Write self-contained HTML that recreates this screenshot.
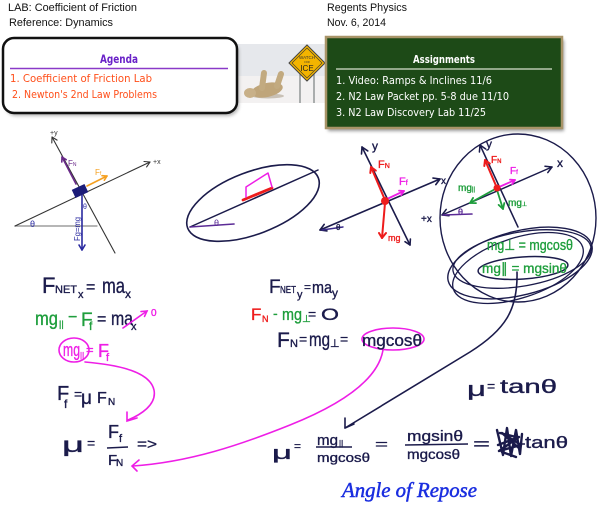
<!DOCTYPE html>
<html><head><meta charset="utf-8"><style>
html,body{margin:0;padding:0;background:#fff;width:600px;height:508px;overflow:hidden}
svg{display:block}
.h{font-family:"Liberation Sans",Arial,sans-serif;font-size:11px;fill:#111}
.c{font-family:"DejaVu Sans","Liberation Sans",sans-serif}
.w{font-family:"Liberation Sans","DejaVu Sans",sans-serif;stroke-width:0.35;stroke-linejoin:round}
.n{fill:#1b1b4b;stroke:#1b1b4b}
.g{fill:#1e9e3c;stroke:#1e9e3c}
.r{fill:#ee1c1c;stroke:#ee1c1c}
.m{fill:#ee1ee6;stroke:#ee1ee6}
</style></head><body>
<svg width="600" height="508" viewBox="0 0 600 508" xmlns="http://www.w3.org/2000/svg">
<defs>
<filter id="sh" x="-10%" y="-10%" width="130%" height="140%"><feGaussianBlur stdDeviation="1.5"/></filter>
</defs>
<rect width="600" height="508" fill="#fff"/>

<!-- header -->
<text class="h" x="8" y="11" textLength="129" lengthAdjust="spacingAndGlyphs">LAB: Coefficient of Friction</text>
<text class="h" x="9" y="26" textLength="104" lengthAdjust="spacingAndGlyphs">Reference: Dynamics</text>
<text class="h" x="327" y="11" textLength="80" lengthAdjust="spacingAndGlyphs">Regents Physics</text>
<text class="h" x="327" y="26" textLength="59" lengthAdjust="spacingAndGlyphs">Nov. 6, 2014</text>

<!-- image -->
<rect x="237" y="44" width="90" height="59" fill="#e6e8ec"/>
<rect x="237" y="76" width="90" height="27" fill="#f3f1f1"/>
<line x1="300" y1="74" x2="300" y2="103" stroke="#7a8080" stroke-width="1.2"/>
<line x1="314" y1="74" x2="314" y2="103" stroke="#7a8080" stroke-width="1.2"/>
<polygon points="307,45 325,63 307,81 289,63" fill="#f3b400" stroke="#444" stroke-width="1"/>
<polygon points="307,48 322,63 307,78 292,63" fill="none" stroke="#333" stroke-width="0.6"/>
<text x="307" y="59" font-size="4.5" text-anchor="middle" fill="#333" font-family="Liberation Sans">WATCH</text>
<text x="307" y="63" font-size="2.5" text-anchor="middle" fill="#333" font-family="Liberation Sans">FOR</text>
<text x="307" y="71" font-size="8" text-anchor="middle" fill="#222" font-family="Liberation Sans">ICE</text>
<ellipse cx="268" cy="96" rx="16" ry="2.5" fill="#8a7a60" opacity="0.4"/>
<ellipse cx="267" cy="90" rx="16" ry="7" fill="#bfa57a" transform="rotate(-12 267 90)"/>
<path d="M262,88 L264,73 M277,86 L281,74" stroke="#c2aa80" stroke-width="6" stroke-linecap="round"/>
<ellipse cx="250" cy="93" rx="6" ry="5" fill="#c8b088"/>

<!-- agenda -->
<rect x="5" y="41" width="234" height="75" rx="11" fill="#888" opacity="0.6" filter="url(#sh)"/>
<rect x="3" y="38" width="234" height="75" rx="11" fill="#fff" stroke="#111" stroke-width="2.5"/>
<text class="c" x="100" y="63" font-size="11.5" font-weight="bold" fill="#6a22c8" textLength="38" lengthAdjust="spacingAndGlyphs">Agenda</text>
<line x1="10" y1="68.5" x2="228" y2="68.5" stroke="#8a3ac8" stroke-width="1.5"/>
<text class="c" x="10" y="82" font-size="10.5" fill="#ff4f1a" textLength="142" lengthAdjust="spacingAndGlyphs">1. Coefficient of Friction Lab</text>
<text class="c" x="12" y="98" font-size="10.5" fill="#ff4f1a" textLength="145" lengthAdjust="spacingAndGlyphs">2. Newton's 2nd Law Problems</text>

<!-- assignments -->
<rect x="328" y="40" width="236" height="91" fill="#555" opacity="0.6" filter="url(#sh)"/>
<rect x="326" y="37" width="236" height="91" fill="#1d4a17" stroke="#a89468" stroke-width="2.5"/>
<text class="c" x="413" y="63" font-size="11" font-weight="bold" fill="#fff" textLength="62" lengthAdjust="spacingAndGlyphs">Assignments</text>
<line x1="336" y1="69" x2="552" y2="69" stroke="#d8e0d0" stroke-width="1.3"/>
<text class="c" x="336" y="84" font-size="10.5" fill="#fff" textLength="156" lengthAdjust="spacingAndGlyphs">1. Video: Ramps &amp; Inclines 11/6</text>
<text class="c" x="336" y="100" font-size="10.5" fill="#fff" textLength="173" lengthAdjust="spacingAndGlyphs">2. N2 Law Packet pp. 5-8 due 11/10</text>
<text class="c" x="336" y="116" font-size="10.5" fill="#fff" textLength="150" lengthAdjust="spacingAndGlyphs">3. N2 Law Discovery Lab 11/25</text>

<!-- diagram 1 -->
<g fill="none" stroke-linecap="round" stroke-linejoin="round">
<line x1="15" y1="226" x2="97" y2="226" stroke="#8a8a8a" stroke-width="1.2"/>
<line x1="15" y1="226" x2="150" y2="162" stroke="#333" stroke-width="1.1"/>
<polyline points="144,161.5 150,162 146.6,166.9" stroke="#333" stroke-width="1.1"/>
<line x1="52" y1="137" x2="115" y2="253" stroke="#333" stroke-width="1.1"/>
<polyline points="51.8,143 52,137 57.1,140.1" stroke="#333" stroke-width="1.1"/>
<line x1="76" y1="184" x2="62" y2="157" stroke="#6a2a8a" stroke-width="1.6"/>
<polyline points="61.8,162 62,157 66.2,159.7" stroke="#6a2a8a" stroke-width="1.6"/>
<line x1="87" y1="186" x2="107" y2="176" stroke="#f5a020" stroke-width="1.6"/>
<polyline points="102,175.7 107,176 104.3,180.2" stroke="#f5a020" stroke-width="1.6"/>
<line x1="82" y1="195" x2="82" y2="250" stroke="#2a2aa0" stroke-width="1.6"/>
<polyline points="79,245 82,250 85,245" stroke="#2a2aa0" stroke-width="1.6"/>
</g>
<rect x="73" y="186.5" width="14" height="9" fill="#1c1c78" transform="rotate(-25 80 191)"/>
<text x="153" y="164" font-size="7" font-family="Liberation Sans" fill="#333">+x</text>
<text x="50" y="135" font-size="7" font-family="Liberation Sans" fill="#333">+y</text>
<text x="68" y="166" font-size="8" font-family="Liberation Sans" fill="#6a2a8a">F<tspan font-size="5">N</tspan></text>
<text x="95" y="175" font-size="8" font-family="Liberation Sans" fill="#f5a020">F<tspan font-size="5">f</tspan></text>
<text x="80" y="241" font-size="8" font-family="Liberation Sans" fill="#2a2aa0" transform="rotate(-90 80 241)" textLength="24" lengthAdjust="spacingAndGlyphs">Fg=mg</text>
<text x="30" y="227" font-size="9" font-family="Liberation Sans" fill="#2a2aa0">θ</text>
<text x="83" y="209" font-size="7" font-family="Liberation Sans" fill="#2a2aa0">θ</text>

<!-- diagram 2 -->
<g fill="none" stroke-linecap="round" stroke-linejoin="round">
<ellipse cx="253" cy="203" rx="70" ry="31" transform="rotate(-21 253 203)" stroke="#1b1b4b" stroke-width="1.6"/>
<line x1="190" y1="227" x2="318" y2="170" stroke="#1b1b4b" stroke-width="1.5"/>
<line x1="190" y1="227" x2="234" y2="224" stroke="#5b2b96" stroke-width="1.6"/>
<line x1="243" y1="200" x2="272" y2="188" stroke="#ee1c1c" stroke-width="2.8"/>
<polyline points="246,197 246,187 268,173 272,187" stroke="#ee1ee6" stroke-width="1.5"/>
</g>
<text x="214" y="226" font-size="9" font-family="Liberation Sans" fill="#5b2b96">θ</text>

<!-- diagram 3 -->
<g fill="none" stroke-linecap="round" stroke-linejoin="round">
<line x1="362" y1="147" x2="410" y2="245" stroke="#1b1b4b" stroke-width="1.6"/>
<polyline points="361.5,154 362,147 367.8,150.9" stroke="#1b1b4b" stroke-width="1.6"/>
<polyline points="410.4,239 410,245 405,241.7" stroke="#1b1b4b" stroke-width="1.6"/>
<line x1="320" y1="230" x2="440" y2="179" stroke="#1b1b4b" stroke-width="1.6"/>
<polyline points="433,178.1 440,179 435.8,184.6" stroke="#1b1b4b" stroke-width="1.6"/>
<polyline points="327,230.9 320,230 324.2,224.4" stroke="#1b1b4b" stroke-width="1.6"/>
<line x1="322" y1="230" x2="343" y2="227" stroke="#3a2a8a" stroke-width="1.4"/>
<line x1="385" y1="200" x2="371" y2="167" stroke="#ee1c1c" stroke-width="2"/>
<polyline points="370.3,173 371,167 375.8,170.6" stroke="#ee1c1c" stroke-width="2"/>
<line x1="387" y1="199" x2="404" y2="191" stroke="#ee1ee6" stroke-width="1.8"/>
<polyline points="399,190.6 404,191 401.1,195.1" stroke="#ee1ee6" stroke-width="1.8"/>
<line x1="385" y1="203" x2="382" y2="238" stroke="#ee1c1c" stroke-width="2"/>
<polyline points="379,233 382,238 386,233" stroke="#ee1c1c" stroke-width="2"/>
</g>
<circle cx="385" cy="201" r="4" fill="#ee1c1c"/>
<text class="w n" x="372" y="150" font-size="12">y</text>
<text class="w n" x="441" y="184" font-size="10">x</text>
<text class="w n" x="336" y="230" font-size="8">θ</text>
<text class="w r" x="378" y="168" font-size="11">F<tspan font-size="7">N</tspan></text>
<text class="w m" x="399" y="185" font-size="11">F<tspan font-size="7">f</tspan></text>
<text class="w r" x="388" y="241" font-size="9">mg</text>

<!-- diagram 4 -->
<g fill="none" stroke-linecap="round" stroke-linejoin="round" stroke="#1b1b4b">
<ellipse cx="518" cy="218" rx="78" ry="84" stroke-width="1.4"/>
<ellipse cx="520" cy="263" rx="74" ry="32" transform="rotate(-14 520 263)" stroke-width="1.4"/>
<ellipse cx="522" cy="259" rx="70" ry="27" transform="rotate(-10 522 259)" stroke-width="1.3"/>
<ellipse cx="518" cy="268" rx="68" ry="30" transform="rotate(-18 518 268)" stroke-width="1.3"/>
<ellipse cx="523" cy="268" rx="45" ry="11" transform="rotate(-4 523 268)" stroke-width="1.5"/>
<line x1="480" y1="145" x2="518" y2="227" stroke-width="1.5"/>
<polyline points="479.4,152 480,145 485.7,149" stroke-width="1.5"/>
<line x1="442" y1="215" x2="552" y2="167" stroke-width="1.5"/>
<polyline points="545,166.2 552,167 547.8,172.6" stroke-width="1.5"/>
<polyline points="449,215.8 442,215 446.2,209.4" stroke-width="1.5"/>
<path d="M517,272 C518,310 505,330 470,352 L345,428" stroke-width="1.6"/>
<polyline points="345,418 345,428 354,424" stroke-width="1.6"/>
<line x1="443" y1="215" x2="472" y2="214" stroke="#5b2b96" stroke-width="1.6"/>
<line x1="497" y1="188" x2="485" y2="160" stroke="#ee1c1c" stroke-width="2"/>
<polyline points="484.3,166 485,160 489.8,163.6" stroke="#ee1c1c" stroke-width="2"/>
<line x1="499" y1="187" x2="515" y2="180" stroke="#ee1ee6" stroke-width="1.8"/>
<polyline points="510,179.6 515,180 512.1,184.1" stroke="#ee1ee6" stroke-width="1.8"/>
<line x1="497" y1="188" x2="470" y2="203" stroke="#1e9e3c" stroke-width="1.8"/>
<polyline points="476,203.1 470,203 473.1,197.9" stroke="#1e9e3c" stroke-width="1.8"/>
<line x1="497" y1="190" x2="503" y2="209" stroke="#1e9e3c" stroke-width="1.8"/>
<polyline points="504.3,203.1 503,209 498.6,204.9" stroke="#1e9e3c" stroke-width="1.8"/>
</g>
<circle cx="497" cy="188" r="3.5" fill="#ee1c1c"/>
<text class="w n" x="486" y="148" font-size="12">y</text>
<text class="w n" x="557" y="167" font-size="12">x</text>
<text class="w n" x="421" y="222" font-size="10">+x</text>
<text class="w" x="458" y="215" font-size="9" fill="#5b2b96" stroke="#5b2b96">θ</text>
<text class="w r" x="491" y="163" font-size="10">F<tspan font-size="6">N</tspan></text>
<text class="w m" x="510" y="174" font-size="10">F<tspan font-size="6">f</tspan></text>
<text class="w g" x="458" y="191" font-size="10">mg<tspan font-size="6">||</tspan></text>
<text class="w g" x="508" y="206" font-size="10">mg<tspan font-size="6">⊥</tspan></text>
<text class="w g" x="487" y="250" font-size="15" textLength="86" lengthAdjust="spacingAndGlyphs">mg⊥ = mgcosθ</text>
<text class="w g" x="482" y="273" font-size="14" textLength="85" lengthAdjust="spacingAndGlyphs">mg∥ = mgsinθ</text>

<!-- left equations -->
<text class="w n" x="42" y="293" font-size="22">F</text>
<text class="w n" x="55" y="293" font-size="11" textLength="22" lengthAdjust="spacingAndGlyphs">NET</text>
<text class="w n" x="78" y="298" font-size="11">x</text>
<text class="w n" x="86" y="292" font-size="16">=</text>
<text class="w n" x="102" y="293" font-size="21" textLength="23" lengthAdjust="spacingAndGlyphs">ma</text>
<text class="w n" x="125" y="298" font-size="12">x</text>

<text class="w g" x="35" y="325" font-size="19" textLength="23" lengthAdjust="spacingAndGlyphs">mg</text>
<text class="w g" x="59" y="327" font-size="9">||</text>
<text class="w g" x="68" y="322" font-size="16">−</text>
<text class="w g" x="81" y="326" font-size="19">F</text>
<text class="w g" x="89" y="330" font-size="12">f</text>
<text class="w n" x="97" y="324" font-size="16">=</text>
<text class="w n" x="111" y="325" font-size="19" textLength="22" lengthAdjust="spacingAndGlyphs">ma</text>
<text class="w n" x="131" y="330" font-size="11">x</text>
<g fill="none" stroke="#ee1ee6" stroke-width="1.6" stroke-linecap="round">
<line x1="123" y1="328" x2="147" y2="311"/>
<polyline points="141,311.6 147,311 144.5,316.4"/>
<ellipse cx="74" cy="350" rx="15" ry="12"/>
<path d="M85,362 C120,365 150,372 154,390 C157,405 140,415 128,420"/>
<polyline points="127,412 127,421 137,418"/>
<ellipse cx="393" cy="339" rx="31" ry="11"/>
<path d="M383,350 C378,380 340,405 290,425 C240,445 190,462 133,466"/>
<polyline points="139,460 132,466 137,471"/>
</g>
<text class="w m" x="151" y="316" font-size="10">0</text>
<text class="w m" x="63" y="356" font-size="18" textLength="17" lengthAdjust="spacingAndGlyphs">mg</text>
<text class="w m" x="80" y="358" font-size="8">||</text>
<text class="w m" x="86" y="354" font-size="13">=</text>
<text class="w m" x="98" y="357" font-size="18">F</text>
<text class="w m" x="106" y="361" font-size="11">f</text>

<text class="w n" x="57" y="400" font-size="20">F</text>
<text class="w n" x="64" y="408" font-size="12">f</text>
<text class="w n" x="74" y="399" font-size="14">=</text>
<text class="w n" x="81" y="404" font-size="19">μ</text>
<text class="w n" x="97" y="403" font-size="16">F</text>
<text class="w n" x="108" y="405" font-size="10">N</text>

<text class="w n" x="62" y="452" font-size="21" textLength="22" lengthAdjust="spacingAndGlyphs">μ</text>
<text class="w n" x="87" y="448" font-size="14">=</text>
<text class="w n" x="108" y="438" font-size="18">F</text>
<text class="w n" x="119" y="442" font-size="11">f</text>
<line x1="107" y1="448" x2="128" y2="447" stroke="#1b1b4b" stroke-width="1.6"/>
<text class="w n" x="108" y="465" font-size="15">F</text>
<text class="w n" x="116" y="466" font-size="10">N</text>
<text class="w n" x="137" y="449" font-size="15" textLength="20" lengthAdjust="spacingAndGlyphs">=&gt;</text>

<!-- middle equations -->
<text class="w n" x="269" y="293" font-size="19">F</text>
<text class="w n" x="280" y="293" font-size="10" textLength="16" lengthAdjust="spacingAndGlyphs">NET</text>
<text class="w n" x="297" y="298" font-size="11">y</text>
<text class="w n" x="304" y="291" font-size="12">=</text>
<text class="w n" x="312" y="293" font-size="17" textLength="20" lengthAdjust="spacingAndGlyphs">ma</text>
<text class="w n" x="332" y="297" font-size="12">y</text>

<text class="w r" x="251" y="320" font-size="17">F</text>
<text class="w r" x="262" y="322" font-size="9">N</text>
<text class="w g" x="273" y="318" font-size="14">-</text>
<text class="w g" x="282" y="320" font-size="17" textLength="20" lengthAdjust="spacingAndGlyphs">mg</text>
<text class="w g" x="302" y="322" font-size="10">⊥</text>
<text class="w n" x="308" y="319" font-size="14">=</text>
<text class="w n" x="321" y="320" font-size="17" textLength="18" lengthAdjust="spacingAndGlyphs">O</text>

<text class="w n" x="277" y="347" font-size="21">F</text>
<text class="w n" x="290" y="347" font-size="11">N</text>
<text class="w n" x="299" y="344" font-size="14">=</text>
<text class="w n" x="309" y="346" font-size="19" textLength="21" lengthAdjust="spacingAndGlyphs">mg</text>
<text class="w n" x="330" y="347" font-size="11">⊥</text>
<text class="w n" x="340" y="344" font-size="14">=</text>
<text class="w n" x="362" y="346" font-size="17" textLength="60" lengthAdjust="spacingAndGlyphs">mgcosθ</text>

<!-- right equations -->
<text class="w n" x="467" y="396" font-size="20" textLength="19" lengthAdjust="spacingAndGlyphs">μ</text>
<text class="w n" x="487" y="391" font-size="14">=</text>
<text class="w n" x="500" y="393" font-size="19" textLength="57" lengthAdjust="spacingAndGlyphs">tanθ</text>

<text class="w n" x="272" y="459" font-size="18" textLength="20" lengthAdjust="spacingAndGlyphs">μ</text>
<text class="w n" x="294" y="450" font-size="12">=</text>
<text class="w n" x="317" y="445" font-size="15" textLength="21" lengthAdjust="spacingAndGlyphs">mg</text>
<text class="w n" x="339" y="446" font-size="8">||</text>
<line x1="316" y1="447" x2="352" y2="447" stroke="#1b1b4b" stroke-width="1.4"/>
<text class="w n" x="317" y="462" font-size="13" textLength="53" lengthAdjust="spacingAndGlyphs">mgcosθ</text>
<text class="w n" x="375" y="449" font-size="14" textLength="13" lengthAdjust="spacingAndGlyphs">=</text>
<text class="w n" x="407" y="441" font-size="15" textLength="56" lengthAdjust="spacingAndGlyphs">mgsinθ</text>
<line x1="405" y1="445" x2="468" y2="444" stroke="#1b1b4b" stroke-width="1.4"/>
<text class="w n" x="407" y="459" font-size="14" textLength="53" lengthAdjust="spacingAndGlyphs">mgcosθ</text>
<text class="w n" x="473" y="449" font-size="16" textLength="17" lengthAdjust="spacingAndGlyphs">=</text>
<path d="M497,430 l6,25 l4,-27 l4,28 l5,-26 l4,24 l2,-20 M498,445 l21,-8 l-20,14 l22,-6 l-19,-12 l18,16 M500,433 l16,4 M502,452 l14,5" fill="none" stroke="#1b1b4b" stroke-width="2.4" stroke-linecap="round" stroke-linejoin="round"/>
<line x1="519" y1="444" x2="525" y2="444" stroke="#1b1b4b" stroke-width="1.5"/>
<text class="w n" x="525" y="448" font-size="17" textLength="43" lengthAdjust="spacingAndGlyphs">tanθ</text>

<text x="342" y="497" font-size="21" font-style="italic" font-family="Liberation Serif, serif" fill="#1a2ee0" stroke="#1a2ee0" stroke-width="0.5" textLength="135" lengthAdjust="spacingAndGlyphs">Angle of Repose</text>
</svg>
</body></html>
